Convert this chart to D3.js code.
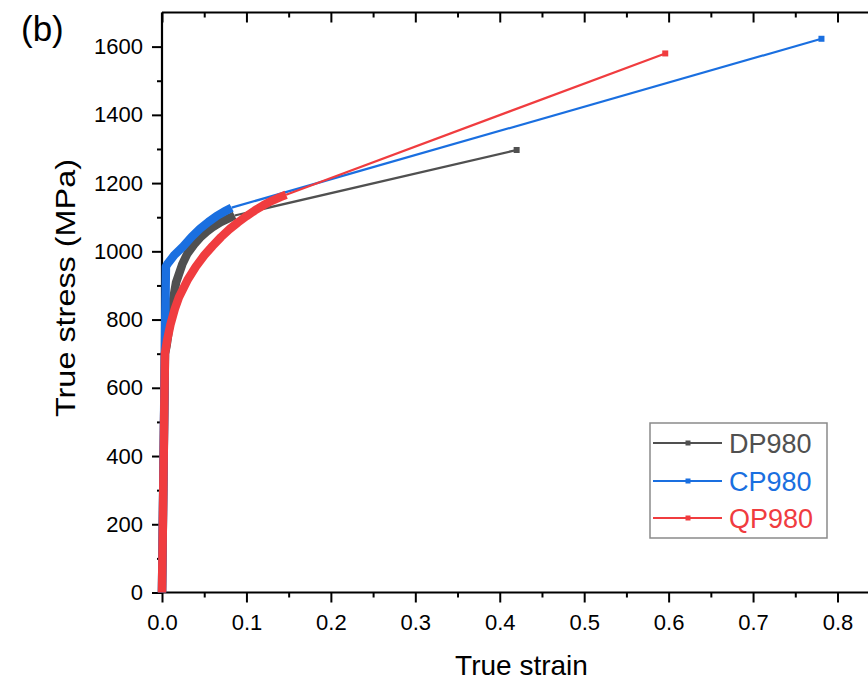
<!DOCTYPE html>
<html><head><meta charset="utf-8">
<script src="https://cdnjs.cloudflare.com/ajax/libs/d3/7.8.5/d3.min.js"></script>
<style>body{margin:0;background:#fff}svg{display:block}text{font-family:"Liberation Sans",Arial,sans-serif}</style>
</head><body><svg id="c" width="868" height="683"></svg>
<script>
// ---- data (strain, true stress MPa) ----
const seriesNames = ["DP980", "CP980", "QP980"];
const seriesColors = ["#505050", "#1a6fe0", "#f03c3f"];
// dense (measured) part of each curve
const dpStrain = [0, 0.0035, 0.0055, 0.0075, 0.0115, 0.0166, 0.024, 0.030, 0.038, 0.045, 0.053, 0.060, 0.070, 0.080, 0.086];
const dpStress = [0, 700, 725, 760, 835, 908, 962, 993, 1020, 1040, 1058, 1071, 1086, 1098, 1105];
const cpStrain = [0, 0.0046, 0.007, 0.015, 0.025, 0.035, 0.045, 0.055, 0.065, 0.075, 0.0825];
const cpStress = [0, 955, 965, 990, 1014, 1042, 1066, 1086, 1104, 1118, 1128];
const qpStrain = [0, 0.0035, 0.006, 0.010, 0.015, 0.020, 0.030, 0.040, 0.050, 0.060, 0.070, 0.080, 0.090, 0.100, 0.110, 0.120, 0.130, 0.140, 0.147];
const qpStress = [0, 700, 738, 785, 830, 865, 915, 955, 988, 1016, 1042, 1065, 1085, 1103, 1120, 1135, 1148, 1159, 1166];
// final (extrapolated) points
const endStrain = [0.420, 0.781, 0.596];
const endStress = [1297, 1623, 1580];
// axis ticks
const xTicks = [0, 0.1, 0.2, 0.3, 0.4, 0.5, 0.6, 0.7, 0.8];
const xMinor = [0.05, 0.15, 0.25, 0.35, 0.45, 0.55, 0.65, 0.75, 0.85];
const yTicks = [0, 200, 400, 600, 800, 1000, 1200, 1400, 1600];
const yMinor = [100, 300, 500, 700, 900, 1100, 1300, 1500];

const denseX = [dpStrain, cpStrain, qpStrain];
const denseY = [dpStress, cpStress, qpStress];

const svg = d3.select("#c");
const X0 = 162, Y0 = 592.5, YT = 12.5;
const x = d3.scaleLinear().domain([0, 0.8]).range([X0, 837.5]);
const y = d3.scaleLinear().domain([0, 1700]).range([Y0, YT]);
const font = '"Liberation Sans",Arial,sans-serif';

function styleAxis(g){ g.select(".domain").remove(); g.selectAll("line").attr("stroke","#000").attr("stroke-width",2); }
// bottom
svg.append("g").attr("transform", `translate(0,${Y0})`)
  .call(d3.axisBottom(x).tickValues(xTicks).tickSize(10).tickSizeOuter(0).tickFormat(d3.format(".1f")).tickPadding(12))
  .call(styleAxis)
  .selectAll("text").attr("font-size", 22).attr("font-family", font).attr("fill", "#000");
svg.append("g").attr("transform", `translate(0,${Y0})`)
  .call(d3.axisBottom(x).tickValues(xMinor).tickSize(5).tickSizeOuter(0).tickFormat(""))
  .call(styleAxis);
// top (inward ticks)
svg.append("g").attr("transform", `translate(0,${YT})`)
  .call(d3.axisBottom(x).tickValues(xTicks).tickSize(10).tickSizeOuter(0).tickFormat(""))
  .call(styleAxis);
svg.append("g").attr("transform", `translate(0,${YT})`)
  .call(d3.axisBottom(x).tickValues(xMinor).tickSize(5).tickSizeOuter(0).tickFormat(""))
  .call(styleAxis);
// left
svg.append("g").attr("transform", `translate(${X0},0)`)
  .call(d3.axisLeft(y).tickValues(yTicks).tickSize(10).tickSizeOuter(0).tickFormat(d3.format("d")).tickPadding(9))
  .call(styleAxis)
  .selectAll("text").attr("font-size", 22).attr("font-family", font).attr("fill", "#000");
svg.append("g").attr("transform", `translate(${X0},0)`)
  .call(d3.axisLeft(y).tickValues(yMinor).tickSize(5).tickSizeOuter(0).tickFormat(""))
  .call(styleAxis);
// frame lines
svg.append("line").attr("x1", X0).attr("x2", 868).attr("y1", Y0).attr("y2", Y0).attr("stroke", "#000").attr("stroke-width", 2.2);
svg.append("line").attr("x1", X0).attr("x2", 868).attr("y1", YT).attr("y2", YT).attr("stroke", "#000").attr("stroke-width", 2.2);
svg.append("line").attr("x1", X0).attr("x2", X0).attr("y1", YT).attr("y2", Y0).attr("stroke", "#000").attr("stroke-width", 2.2);

// curves
const line = d3.line().x(d => x(d[0])).y(d => y(d[1]));
for (let i = 0; i < 3; i++) {
  const dense = denseX[i].map((v, k) => [v, denseY[i][k]]);
  const last = dense[dense.length - 1];
  const g = svg.append("g");
  g.append("path").attr("d", line([last, [endStrain[i], endStress[i]]]))
    .attr("fill", "none").attr("stroke", seriesColors[i]).attr("stroke-width", 2.2);
  g.append("path").attr("d", line(dense))
    .attr("fill", "none").attr("stroke", seriesColors[i]).attr("stroke-width", 8.5)
    .attr("stroke-linejoin", "round").attr("stroke-linecap", "butt");
  g.append("rect").attr("x", x(endStrain[i]) - 3).attr("y", y(endStress[i]) - 3)
    .attr("width", 6).attr("height", 6).attr("fill", seriesColors[i]);
}

// axis titles
svg.append("text").attr("x", 521.5).attr("y", 675).attr("text-anchor", "middle")
  .attr("font-size", 28).attr("fill", "#000").text("True strain");
svg.append("text").attr("transform", "translate(75,288) rotate(-90)").attr("text-anchor", "middle")
  .attr("font-size", 28).attr("textLength", 258).attr("lengthAdjust", "spacingAndGlyphs")
  .attr("fill", "#000").text("True stress (MPa)");
svg.append("text").attr("x", 21).attr("y", 41).attr("font-size", 35).attr("fill", "#000").text("(b)");

// legend
const lg = svg.append("g");
lg.append("rect").attr("x", 650).attr("y", 423).attr("width", 177).attr("height", 115)
  .attr("fill", "#fff").attr("stroke", "#8a8a8a").attr("stroke-width", 1.5);
const rowY = [443, 481, 518];
seriesNames.forEach((n, i) => {
  lg.append("line").attr("x1", 653).attr("x2", 722).attr("y1", rowY[i]).attr("y2", rowY[i])
    .attr("stroke", seriesColors[i]).attr("stroke-width", 2.2);
  lg.append("rect").attr("x", 685.5).attr("y", rowY[i] - 2.5).attr("width", 5).attr("height", 5).attr("fill", seriesColors[i]);
  lg.append("text").attr("x", 729).attr("y", rowY[i] + 10).attr("font-size", 27)
    .attr("fill", seriesColors[i]).text(n);
});
</script></body></html>
